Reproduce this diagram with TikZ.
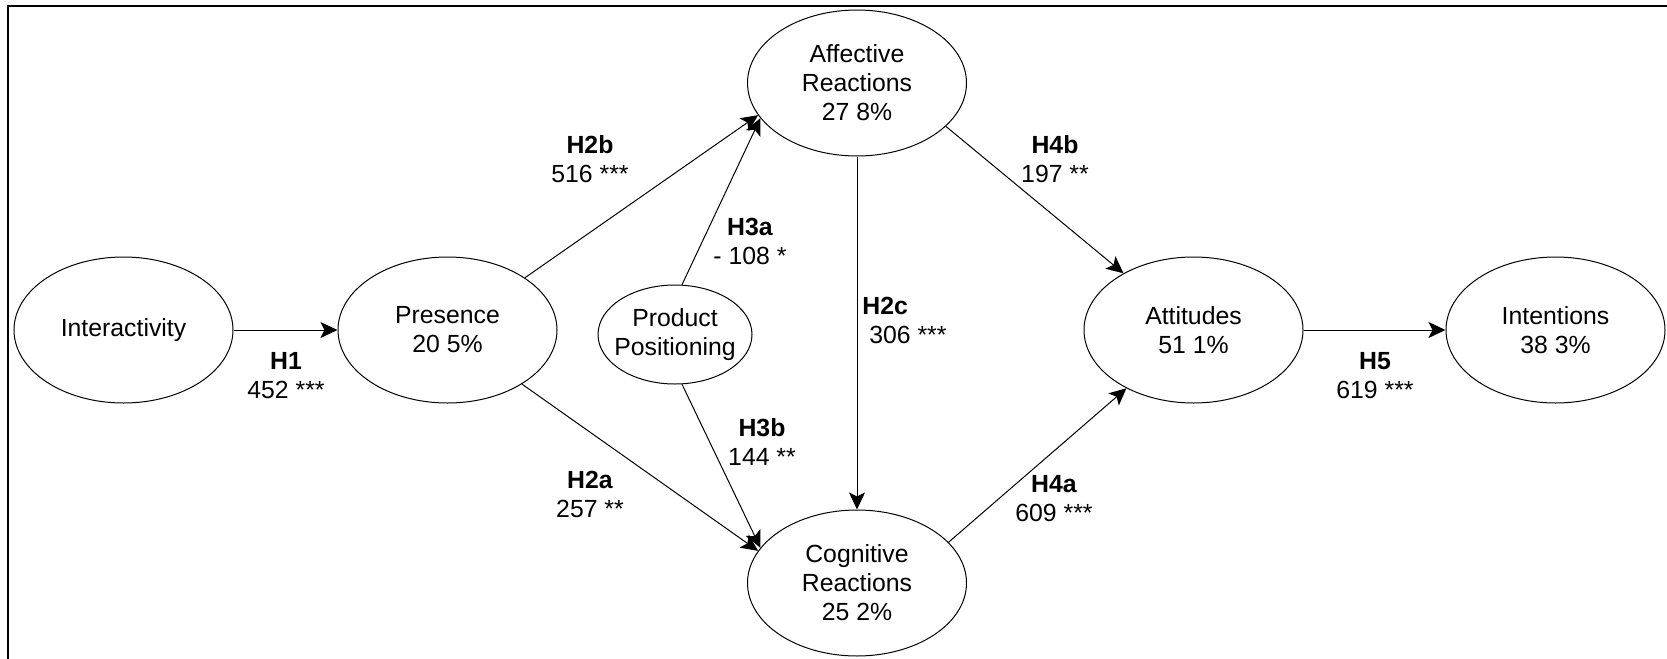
\documentclass[tikz,border=0pt]{standalone}
\usepackage{fontspec}
\setmainfont{Liberation Sans}
\usetikzlibrary{arrows.meta, shapes.geometric}

\begin{document}
\begin{tikzpicture}[x=0.5pt, y=-0.5pt, >={Stealth[length=8.5pt, width=8pt, inset=2pt]},
  font=\fontsize{12.4}{14.5}\selectfont,
  var/.style={ellipse, draw, line width=0.5pt, inner sep=0pt, align=center,
    minimum width=109.5pt, minimum height=73pt},
  small/.style={var, inner xsep=-3.5pt, minimum width=77pt, minimum height=49.5pt},
  link/.style={->, line width=0.5pt},
  hyp/.style={align=center, inner sep=0pt}]

\useasboundingbox (0,0) rectangle (1667,659);

% frame
\draw[line width=1pt] (8,659) -- (8,6) -- (1667,6);

% constructs
\node[var] (inter) at (123.5,330) {Interactivity};
\node[var] (pres) at (447.5,330) {Presence\\20 5\%};
\node[small] (prod) at (675,334.5) {Product\\Positioning};
\node[var] (aff) at (857,83) {Affective\\Reactions\\27 8\%};
\node[var] (cog) at (857,583) {Cognitive\\Reactions\\25 2\%};
\node[var] (att) at (1193.5,330) {Attitudes\\51 1\%};
\node[var] (intn) at (1555.5,330) {Intentions\\38 3\%};

% paths
\draw[link] (inter.east) -- (pres.west);
\draw[link] (pres.34) -- (aff.198);
\draw[link] (prod.82) -- (aff.200);
\draw[link] (pres.-36) -- (cog.162);
\draw[link] (prod.278) -- (cog.160);
\draw[link] (aff.south) -- (cog.north);
\draw[link] (aff.-26) -- (att.141);
\draw[link] (cog.24) -- (att.221);
\draw[link] (att.east) -- (intn.west);

% estimates
\node[hyp] (h1) at (286,375.5) {\textbf{H1}\\452 ***};
\node[hyp] (h2b) at (590,159.5) {\textbf{H2b}\\516 ***};
\node[hyp] (h3a) at (750,241.5) {\textbf{H3a}\\- 108 *};
\node[hyp] (h4b) at (1055,159.5) {\textbf{H4b}\\197 **};
\node[hyp, anchor=west, align=left] (h2c) at (862,320.5) {\textbf{H2c}\\\phantom{.}306 ***};
\node[hyp] (h3b) at (762,442.5) {\textbf{H3b}\\144 **};
\node[hyp] (h2a) at (590,494) {\textbf{H2a}\\257 **};
\node[hyp] (h4a) at (1054,498.5) {\textbf{H4a}\\609 ***};
\node[hyp] (h5) at (1375,375.5) {\textbf{H5}\\619 ***};

\end{tikzpicture}
\end{document}
